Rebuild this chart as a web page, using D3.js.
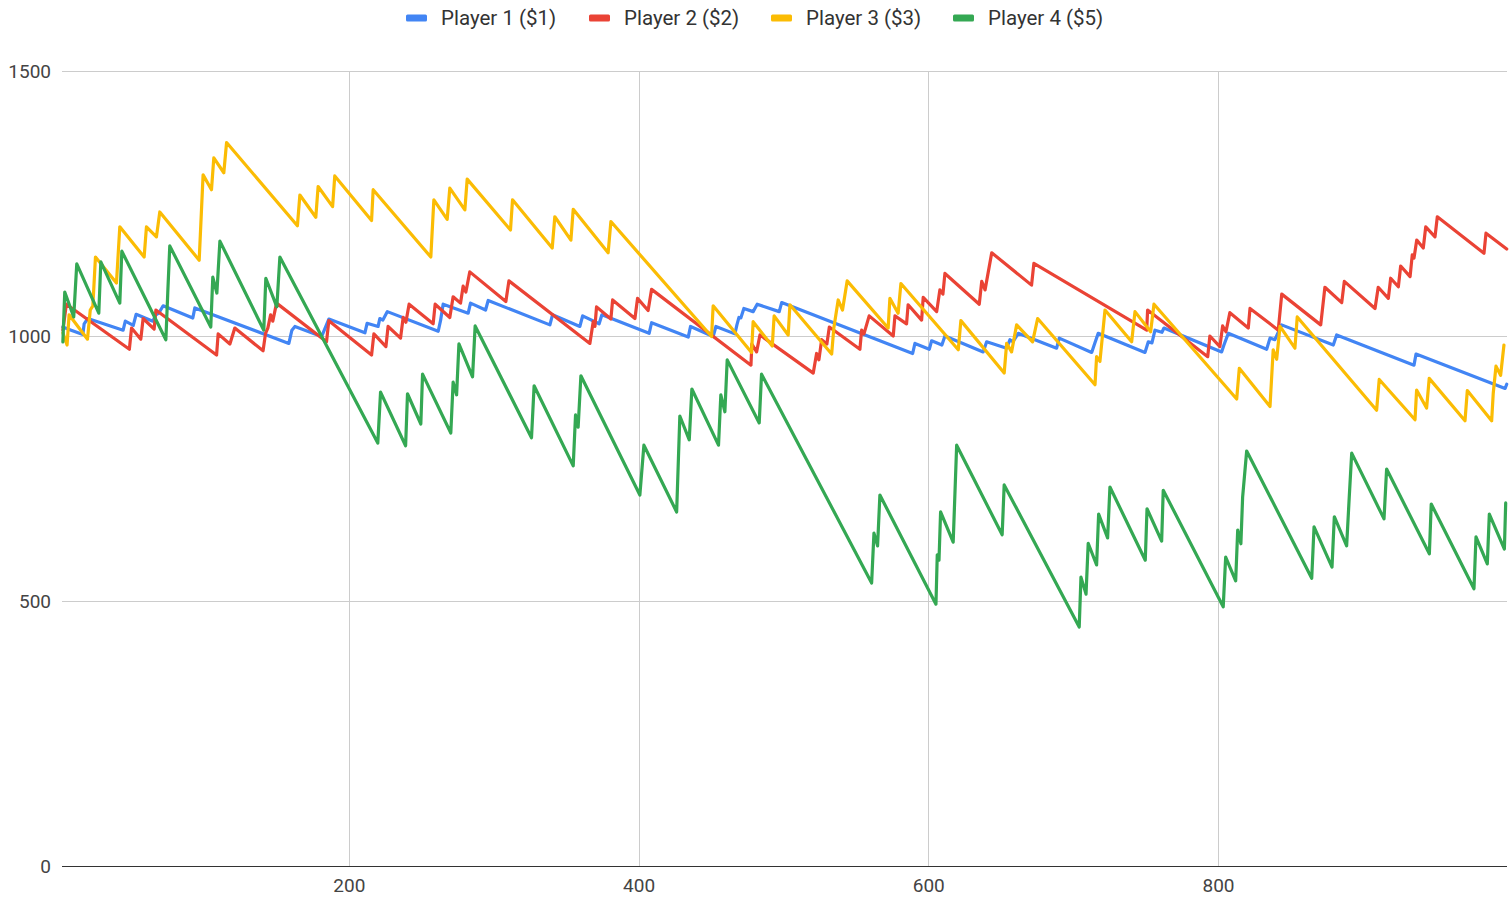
<!DOCTYPE html>
<html>
<head>
<meta charset="utf-8">
<script src="https://cdn.jsdelivr.net/npm/d3@7"></script>
<style>
  body { margin: 0; background: #fff; }
  svg text { font-family: Roboto, "Liberation Sans", Arial, sans-serif; }
</style>
</head>
<body>
<svg id="chart" width="1509" height="903"></svg>
<script>
// Series names and colours (Google Sheets palette)
const playerNames = ['Player 1 ($1)', 'Player 2 ($2)', 'Player 3 ($3)', 'Player 4 ($5)'];
const playerColors = ['#4285f4', '#ea4335', '#fbbc04', '#34a853'];

// Bankroll per round at each turning point
const p1Round = [2.6, 8.3, 16.4, 17.3, 19.8, 44.2, 45.7, 51.2, 53.2, 64.7, 66.8, 68.8, 71.8, 92.3, 93.7,
  158.6, 160.7, 162.8, 181.2, 186.2, 211.1, 212.6, 220.2, 221.4, 223.5, 226.6, 261.7, 263.3, 265.1,
  282.4, 284.0, 294.4, 296.2, 338.8, 340.6, 359.5, 361.4, 372.8, 374.7, 407.3, 409.0, 434.3, 435.9,
  451.5, 453.4, 466.5, 467.9, 469.3, 470.6, 472.7, 479.1, 481.9, 497.1, 498.8, 589.2, 590.8, 600.7,
  602.3, 609.4, 611.5, 637.9, 640.3, 654.1, 656.4, 658.4, 662.1, 688.6, 690.4, 712.8, 715.0, 717.3,
  749.6, 751.9, 754.4, 756.5, 761.3, 762.7, 802.5, 804.1, 807.1, 833.6, 835.9, 839.3, 843.9, 879.6,
  881.9, 935.3, 936.7, 998.2, 999.3];
const p1Bank = [1017, 1011, 1003, 1023, 1033, 1011, 1028, 1020, 1041, 1028, 1040, 1043, 1057, 1034, 1053,
  986, 1011, 1018, 999, 1032, 1006, 1024, 1018, 1033, 1030, 1046, 1009, 1029, 1060,
  1043, 1062, 1049, 1067, 1021, 1040, 1018, 1038, 1023, 1040, 1005, 1025, 998, 1018,
  999, 1018, 1004, 1021, 1035, 1034, 1052, 1046, 1060, 1046, 1063, 967, 986, 975,
  991, 983, 1000, 970, 989, 977, 993, 989, 1005, 977, 996, 969, 987, 1005,
  969, 989, 987, 1011, 1007, 1015, 970, 983, 1005, 975, 996, 993, 1021, 983,
  1002, 945, 966, 901, 909];

const p2Round = [2.6, 5.0, 48.5, 50.0, 56.4, 58.0, 65.6, 66.8, 108.7, 109.8, 117.9, 121.3, 140.8, 142.5,
  144.1, 146.0, 147.5, 150.1, 184.6, 186.2, 215.7, 217.3, 225.6, 227.1, 235.7, 237.5, 239.4, 241.6,
  258.2, 259.6, 269.7, 272.0, 277.1, 278.9, 280.8, 283.5, 308.4, 310.5, 366.4, 368.7, 369.9, 371.0,
  380.9, 382.1, 397.5, 399.3, 406.6, 409.0, 477.6, 478.2, 481.5, 483.8, 520.6, 522.9, 524.5, 526.4,
  530.0, 531.7, 552.8, 554.0, 555.6, 559.2, 575.8, 577.0, 585.0, 586.1, 595.4, 596.5, 605.8, 608.0,
  610.1, 611.5, 635.2, 636.9, 639.2, 643.8, 671.3, 672.9, 750.8, 751.4, 792.9, 794.4, 801.3, 803.2,
  805.5, 808.2, 820.9, 822.1, 841.6, 844.0, 870.9, 873.8, 885.4, 887.2, 908.4, 910.6, 917.6, 919.2,
  924.5, 926.1, 932.6, 934.1, 935.3, 937.2, 941.7, 943.4, 949.8, 951.4, 983.6, 985.0, 999.3];
const p2Bank = [1011, 1060, 975, 1015, 994, 1033, 1013, 1049, 964, 1004, 985, 1015, 972, 1005,
  1015, 1040, 1028, 1062, 989, 1029, 964, 1004, 980, 1018, 996, 1035, 1026, 1060,
  1023, 1060, 1035, 1074, 1062, 1094, 1083, 1121, 1065, 1104, 986, 1027, 1018, 1055,
  1032, 1068, 1033, 1071, 1048, 1088, 945, 985, 970, 1002, 930, 967, 955, 993,
  985, 1017, 975, 1011, 1004, 1038, 1000, 1038, 1023, 1059, 1030, 1073, 1046, 1087,
  1079, 1118, 1060, 1103, 1087, 1157, 1096, 1137, 1011, 1049, 961, 1000, 980, 1019,
  1008, 1044, 1015, 1052, 1011, 1079, 1021, 1092, 1063, 1103, 1052, 1092, 1071, 1109,
  1093, 1132, 1112, 1153, 1147, 1181, 1166, 1206, 1187, 1225, 1156, 1194, 1164];

const p3Round = [2.6, 5.5, 6.9, 19.6, 21.5, 23.3, 25.1, 39.6, 41.9, 58.7, 60.3, 67.2, 69.5, 96.7, 99.4,
  105.2, 106.8, 113.7, 115.6, 164.5, 166.2, 177.2, 178.8, 188.8, 190.3, 215.7, 216.8, 256.6, 258.7,
  267.9, 269.7, 280.1, 281.7, 311.6, 313.0, 340.4, 342.2, 353.3, 354.9, 379.0, 380.9, 450.4, 451.5,
  478.0, 479.1, 492.3, 493.6, 503.3, 504.5, 533.3, 534.8, 537.8, 540.8, 544.0, 572.3, 573.5, 579.2,
  581.1, 620.7, 622.5, 652.4, 654.1, 657.5, 661.0, 672.0, 675.5, 715.1, 716.2, 718.5, 722.0, 740.4,
  742.7, 753.5, 755.8, 812.9, 814.7, 835.9, 838.1, 840.5, 842.8, 853.1, 854.7, 909.5, 911.3, 936.0,
  937.1, 944.0, 945.8, 970.5, 972.1, 988.9, 990.0, 991.9, 995.1, 997.4];
const p3Bank = [1006, 983, 1040, 994, 1049, 1057, 1149, 1100, 1206, 1149, 1206, 1187, 1234, 1143, 1304,
  1276, 1336, 1308, 1365, 1208, 1266, 1224, 1282, 1244, 1302, 1218, 1276, 1149, 1257,
  1220, 1279, 1238, 1296, 1200, 1257, 1166, 1225, 1181, 1239, 1157, 1216, 999, 1057,
  969, 1027, 981, 1038, 1002, 1059, 966, 1015, 1068, 1049, 1104, 1015, 1071, 1043,
  1099, 974, 1029, 930, 986, 970, 1021, 989, 1033, 908, 961, 952, 1049, 989,
  1046, 1008, 1060, 881, 939, 867, 974, 956, 1018, 977, 1036, 860, 918, 842,
  898, 864, 920, 840, 897, 840, 892, 943, 926, 983];

const p4Round = [2.6, 3.9, 10.1, 12.2, 27.4, 28.8, 41.9, 43.3, 73.7, 75.0, 76.4, 104.7, 106.1, 108.9,
  111.0, 141.3, 142.7, 150.3, 152.4, 220.0, 221.9, 239.2, 240.5, 249.7, 250.9, 270.4, 272.0, 274.4,
  276.0, 285.4, 287.2, 326.1, 327.9, 354.9, 356.5, 358.3, 360.2, 400.9, 403.7, 426.3, 428.5, 435.0,
  436.8, 455.2, 456.8, 459.6, 461.2, 483.3, 484.9, 560.9, 562.5, 565.0, 566.6, 605.3, 606.2, 607.4,
  608.5, 617.2, 619.6, 651.0, 652.4, 704.2, 705.4, 708.9, 710.4, 716.2, 717.6, 723.8, 725.4, 749.8,
  751.0, 761.1, 762.2, 803.6, 805.3, 812.2, 813.6, 815.8, 817.0, 819.8, 864.7, 866.3, 878.7, 880.3,
  888.8, 890.6, 892.3, 914.6, 916.4, 945.9, 947.2, 976.7, 978.1, 985.9, 987.3, 997.7, 998.6];
const p4Bank = [989, 1083, 1036, 1136, 1043, 1140, 1062, 1160, 993, 1081, 1170, 1017, 1111, 1081,
  1179, 1011, 1109, 1055, 1149, 798, 894, 793, 891, 834, 928, 817, 913, 889,
  985, 923, 1019, 808, 906, 755, 851, 828, 925, 700, 794, 668, 849, 804,
  900, 794, 889, 857, 955, 836, 928, 534, 628, 604, 700, 494, 587, 577,
  668, 611, 794, 625, 719, 451, 545, 513, 609, 568, 664, 619, 715, 577,
  674, 613, 709, 489, 583, 538, 634, 608, 696, 783, 543, 640, 564, 659,
  604, 696, 779, 655, 749, 589, 683, 523, 621, 570, 664, 598, 685];

const xTickValues = [200, 400, 600, 800];
const yTickValues = [0, 500, 1000, 1500];

const series = [
  { name: playerNames[0], color: playerColors[0], rounds: p1Round, bank: p1Bank },
  { name: playerNames[1], color: playerColors[1], rounds: p2Round, bank: p2Bank },
  { name: playerNames[2], color: playerColors[2], rounds: p3Round, bank: p3Bank },
  { name: playerNames[3], color: playerColors[3], rounds: p4Round, bank: p4Bank },
];

const svg = d3.select('#chart');
const PLOT = { left: 62, right: 1507, top: 71, bottom: 866 };

const x = d3.scaleLinear().domain([2, 999.5]).range([PLOT.left, PLOT.right]);
const y = d3.scaleLinear().domain([0, 1500]).range([PLOT.bottom, PLOT.top]);

// Gridlines
const grid = svg.append('g');
grid.selectAll('line.h')
  .data(yTickValues.filter(v => v > 0))
  .join('line')
  .attr('x1', PLOT.left).attr('x2', PLOT.right)
  .attr('y1', d => y(d) + 0.5).attr('y2', d => y(d) + 0.5)
  .attr('stroke', '#cccccc').attr('stroke-width', 1);
grid.selectAll('line.v')
  .data(xTickValues)
  .join('line')
  .attr('x1', d => Math.round(x(d)) + 0.5).attr('x2', d => Math.round(x(d)) + 0.5)
  .attr('y1', PLOT.top).attr('y2', PLOT.bottom)
  .attr('stroke', '#cccccc').attr('stroke-width', 1);

// Y axis labels (no axis line, just text)
const yAxis = d3.axisLeft(y).tickValues(yTickValues).tickFormat(d3.format('d'))
  .tickSize(0).tickPadding(10);
svg.append('g')
  .attr('transform', `translate(${PLOT.left - 1},0)`)
  .call(yAxis)
  .call(g => g.select('.domain').remove())
  .selectAll('text')
  .attr('font-size', 19)
  .attr('fill', '#444');

// X axis labels
const xAxis = d3.axisBottom(x).tickValues(xTickValues).tickSize(0).tickPadding(13);
svg.append('g')
  .attr('transform', `translate(0,${PLOT.bottom})`)
  .call(xAxis)
  .call(g => g.select('.domain').remove())
  .selectAll('text')
  .attr('font-size', 19)
  .attr('fill', '#444');

// Baseline at zero
svg.append('line')
  .attr('x1', PLOT.left).attr('x2', PLOT.right)
  .attr('y1', y(0) + 0.5).attr('y2', y(0) + 0.5)
  .attr('stroke', '#333').attr('stroke-width', 1.2);

// Lines
const line = d3.line()
  .x(d => x(d.r))
  .y(d => y(d.b));

svg.append('g')
  .selectAll('path')
  .data(series)
  .join('path')
  .attr('d', s => line(s.rounds.map((r, i) => ({ r, b: s.bank[i] }))))
  .attr('fill', 'none')
  .attr('stroke', s => s.color)
  .attr('stroke-width', 3.2)
  .attr('stroke-linejoin', 'round')
  .attr('stroke-linecap', 'round');

// Legend
const legendX = [406, 589, 771, 953];
const legend = svg.append('g');
const items = legend.selectAll('g')
  .data(series)
  .join('g')
  .attr('transform', (d, i) => `translate(${legendX[i]},18)`);
items.append('rect')
  .attr('x', 0).attr('y', -3.5)
  .attr('width', 21).attr('height', 7)
  .attr('rx', 1.5)
  .attr('fill', d => d.color);
items.append('text')
  .attr('x', 35).attr('y', 0)
  .attr('dy', '0.35em')
  .attr('font-size', 20.5)
  .attr('fill', '#333')
  .text(d => d.name);
</script>
</body>
</html>
